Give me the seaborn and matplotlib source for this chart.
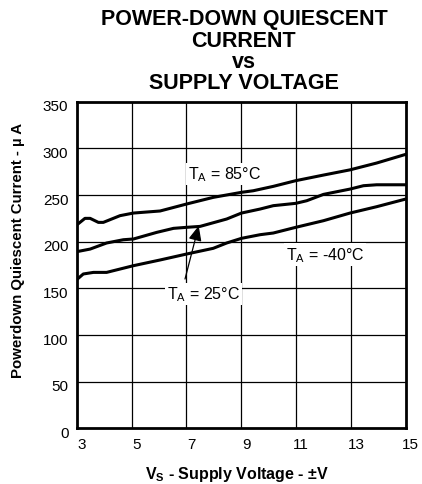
import pandas as pd
import numpy as np
import matplotlib
matplotlib.use("Agg")
import matplotlib.pyplot as plt
import matplotlib.transforms as mtransforms
import seaborn as sns

# 판독한 데이터 (Supply voltage vs quiescent current, µA)
v_85 = [3.0, 3.30, 3.49, 3.79, 3.97, 4.58, 5.07, 6.04, 7.01, 7.98, 9.01, 9.44, 10.17, 10.99, 12.0, 12.97, 13.94, 15.0]
i_85 = [217.9, 225.0, 225.0, 220.7, 220.7, 227.9, 230.7, 232.9, 240.4, 247.5, 252.9, 254.6, 259.3, 265.4, 271.4, 277.0, 284.3, 293.6]

v_25 = [3.0, 3.49, 4.09, 4.70, 5.07, 5.92, 6.53, 7.01, 7.50, 8.47, 9.01, 9.69, 10.17, 10.99, 11.39, 12.0, 12.97, 13.46, 13.94, 15.0]
i_25 = [189.3, 192.1, 198.6, 202.1, 202.9, 210.0, 214.3, 215.4, 216.4, 224.3, 230.7, 235.0, 238.6, 241.1, 243.9, 250.7, 256.4, 260.0, 261.0, 261.0]

v_m40 = [3.0, 3.24, 3.61, 4.09, 5.07, 6.04, 7.01, 7.98, 8.47, 9.01, 9.69, 10.17, 10.99, 12.0, 12.97, 13.94, 15.0]
i_m40 = [159.3, 165.4, 167.1, 167.1, 174.3, 180.4, 186.8, 192.9, 198.6, 203.6, 207.5, 209.3, 215.4, 222.5, 230.7, 237.5, 245.7]

x_ticks = [3, 5, 7, 9, 11, 13, 15]
y_ticks = [0, 50, 100, 150, 200, 250, 300, 350]

title_lines = ["POWER-DOWN QUIESCENT", "CURRENT", "vs", "SUPPLY VOLTAGE"]

df = pd.concat([
    pd.DataFrame({"v": v_85, "i": i_85, "temp": "85"}),
    pd.DataFrame({"v": v_25, "i": i_25, "temp": "25"}),
    pd.DataFrame({"v": v_m40, "i": i_m40, "temp": "-40"}),
])

sns.set_style("white")
plt.rcParams['font.family'] = ['Liberation Sans', 'DejaVu Sans']
plt.rcParams['mathtext.default'] = 'regular'
for k in ["text.color", "axes.labelcolor", "xtick.color", "ytick.color"]:
    plt.rcParams[k] = "black"

fig = plt.figure(figsize=(4.22, 4.85), dpi=100)
ax = fig.add_axes([0.1818, 0.1148, 0.7796, 0.6734])

# 그리드 (5,7,9,11,13 / 50 간격)
for xv in x_ticks[1:-1]:
    ax.axvline(xv, color="black", linewidth=0.9, zorder=1)
for yv in y_ticks[1:-1]:
    ax.axhline(yv, color="black", linewidth=0.9, zorder=1)

sns.lineplot(data=df, x="v", y="i", units="temp", estimator=None, sort=False,
             color="black", linewidth=2.2, ax=ax, zorder=3)

box = dict(facecolor="white", edgecolor="none", pad=1.5)
ax.text(8.41, 272.5, r"T$_{A}$ = 85°C", fontsize=11.5, ha="center", va="center", bbox=box, zorder=2)
ax.text(12.06, 186.6, r"T$_{A}$ = -40°C", fontsize=11.5, ha="center", va="center", bbox=box, zorder=2)
ax.text(7.62, 144, r"T$_{A}$ = 25°C", fontsize=11.5, ha="center", va="center", bbox=box, zorder=2)
ax.annotate("", xy=(7.45, 217), xytext=(6.95, 160),
            arrowprops=dict(arrowstyle="-|>,head_length=0.9,head_width=0.4",
                            color="black", linewidth=0.9, shrinkA=0, shrinkB=0),
            zorder=4)

ax.set_xlim(3, 15)
ax.set_ylim(0, 350)
ax.set_xticks(x_ticks)
ax.set_yticks(y_ticks)
ax.tick_params(axis="both", length=0, labelsize=11, pad=6)
# 원본처럼 눈금 글자를 약간 이동
xshift = mtransforms.ScaledTranslation(5 / 100, 0, fig.dpi_scale_trans)
for lbl in ax.get_xticklabels():
    lbl.set_transform(lbl.get_transform() + xshift)
yshift = mtransforms.ScaledTranslation(0, -3 / 100, fig.dpi_scale_trans)
for lbl in ax.get_yticklabels():
    lbl.set_transform(lbl.get_transform() + yshift)
for s in ax.spines.values():
    s.set_linewidth(2)
    s.set_color("black")

ax.set_xlabel(r"V$_{S}$ - Supply Voltage - ±V", fontsize=11.5, fontweight="bold")
ax.set_ylabel("Powerdown Quiescent Current - µ A", fontsize=10.8, fontweight="bold")
ax.xaxis.set_label_coords(0.488, -0.108)
ax.yaxis.set_label_coords(-0.157, 0.549)

# 제목: 줄마다 baseline 위치 지정 (px from top)
for txt, base_px in zip(title_lines, [25, 47, 68, 89]):
    fig.text(0.578, 1 - base_px / 485, txt, ha="center", va="baseline",
             fontsize=15.5, fontweight="bold")

fig.savefig("out.png", dpi=100)
